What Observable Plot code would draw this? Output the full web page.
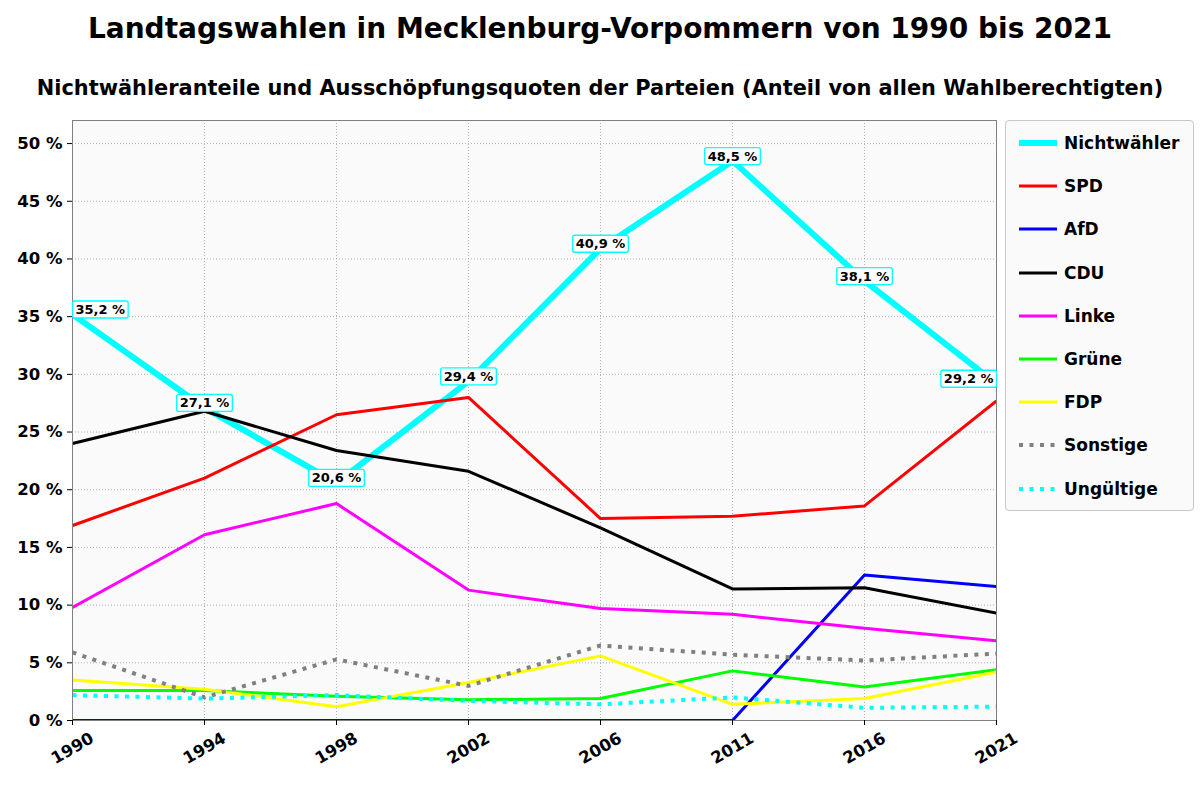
<!DOCTYPE html>
<html>
<head>
<meta charset="utf-8">
<script src="https://cdn.jsdelivr.net/npm/d3@7"></script>
<script src="https://cdn.jsdelivr.net/npm/@observablehq/plot@0.6"></script>
<style>
  html, body { margin: 0; padding: 0; background: #fff; }
  #wrap { position: relative; width: 1200px; height: 800px; font-family: "DejaVu Sans", sans-serif; font-weight: bold; color: #000; }
  #title { position: absolute; left: 0; width: 1200px; top: 12px; text-align: center; font-size: 28px; line-height: 34px; }
  #subtitle { position: absolute; left: 0; width: 1200px; top: 75px; text-align: center; font-size: 20.9px; line-height: 26px; }
  #chart { position: absolute; left: 0; top: 110px; }
  #legend { position: absolute; left: 1005px; top: 120px; width: 187px; height: 389px; border: 1px solid #c8c8c8; border-radius: 4px; background: #fafafa; }
  .item { position: absolute; left: 12px; height: 24px; display: flex; align-items: center; font-size: 17px; }
  .item svg { margin-right: 6px; }
</style>
</head>
<body>
<div id="wrap">
  <div id="title">Landtagswahlen in Mecklenburg-Vorpommern von 1990 bis 2021</div>
  <div id="subtitle">Nichtwähleranteile und Ausschöpfungsquoten der Parteien (Anteil von allen Wahlberechtigten)</div>
  <div id="chart"></div>
  <div id="legend"></div>
</div>
<script>
const years = ["1990", "1994", "1998", "2002", "2006", "2011", "2016", "2021"];
const yTicks = [0, 5, 10, 15, 20, 25, 30, 35, 40, 45, 50];

const nichtwaehler = [35.2, 27.1, 20.6, 29.4, 40.9, 48.5, 38.1, 29.2];
const spd        = [16.9, 21.0, 26.5, 28.0, 17.5, 17.7, 18.6, 27.7];
const afd        = [0, 0, 0, 0, 0, 0, 12.6, 11.6];
const cdu        = [24.0, 26.8, 23.4, 21.6, 16.7, 11.4, 11.5, 9.3];
const linke      = [9.8, 16.1, 18.8, 11.3, 9.7, 9.2, 8.0, 6.9];
const gruene     = [2.6, 2.6, 2.1, 1.8, 1.9, 4.3, 2.9, 4.4];
const fdp        = [3.5, 2.7, 1.2, 3.3, 5.6, 1.4, 1.9, 4.2];
const sonstige   = [5.9, 2.0, 5.3, 3.0, 6.5, 5.7, 5.2, 5.8];
const ungueltige = [2.2, 1.9, 2.2, 1.7, 1.4, 2.0, 1.1, 1.2];
const nwLabels   = ["35,2 %", "27,1 %", "20,6 %", "29,4 %", "40,9 %", "48,5 %", "38,1 %", "29,2 %"];

const series = [
  {name: "Nichtwähler", values: nichtwaehler, color: "#00ffff", width: 6, dash: null},
  {name: "SPD", values: spd, color: "#ff0000", width: 3, dash: null},
  {name: "AfD", values: afd, color: "#0000ff", width: 3, dash: null},
  {name: "CDU", values: cdu, color: "#000000", width: 3, dash: null},
  {name: "Linke", values: linke, color: "#ff00ff", width: 3, dash: null},
  {name: "Grüne", values: gruene, color: "#00ff00", width: 3, dash: null},
  {name: "FDP", values: fdp, color: "#ffff00", width: 3, dash: null},
  {name: "Sonstige", values: sonstige, color: "#808080", width: 4, dash: "4,6.5"},
  {name: "Ungültige", values: ungueltige, color: "#00ffff", width: 4, dash: "4,6.5"}
];

const rows = s => years.map((y, i) => ({year: y, value: s.values[i]}));
const nwData = years.map((y, i) => ({year: y, value: nichtwaehler[i], label: nwLabels[i]}));
const last = years.length - 1;

const lineMarks = series.map(s => Plot.line(rows(s), {
  x: "year", y: "value", stroke: s.color, strokeWidth: s.width,
  strokeDasharray: s.dash || undefined, strokeLinecap: "butt", strokeLinejoin: "round", clip: true
}));

const labelOpts = {x: "year", y: "value", text: "label", dy: -4.5, lineAnchor: "middle", fontSize: 13, fontWeight: "bold", fill: "#000"};

const plot = Plot.plot({
  width: 1200,
  height: 690,
  marginTop: 10,
  marginBottom: 80,
  marginLeft: 72,
  marginRight: 204,
  style: {fontFamily: "DejaVu Sans", fontWeight: "bold", fontSize: "16px", background: "transparent", overflow: "visible", color: "#000"},
  x: {type: "point", domain: years, padding: 0, label: null},
  y: {domain: [0, 52], label: null},
  marks: [
    Plot.frame({fill: "#fafafa"}),
    Plot.gridX(years, {stroke: "#b0b0b0", strokeOpacity: 1, strokeDasharray: "1,2"}),
    Plot.gridY(yTicks, {stroke: "#b0b0b0", strokeOpacity: 1, strokeDasharray: "1,2"}),
    ...lineMarks,
    Plot.frame({stroke: "#808080", strokeWidth: 1}),
    Plot.axisY(yTicks, {tickSize: 5, tickPadding: 5, tickFormat: d => d + " %", fontSize: 16.5, stroke: "#000"}),
    Plot.axisX(years, {tickSize: 5, tickFormat: () => "", stroke: "#000"}),
    Plot.text(years, {x: d => d, frameAnchor: "bottom", dy: 28, rotate: -30, textAnchor: "middle", lineAnchor: "middle", fontSize: 16.5, fontWeight: "bold"}),
    Plot.text(nwData, {...labelOpts, filter: (d, i) => i === 0, textAnchor: "start", dx: 3}),
    Plot.text(nwData, {...labelOpts, filter: (d, i) => i > 0 && i < last, textAnchor: "middle"}),
    Plot.text(nwData, {...labelOpts, filter: (d, i) => i === last, textAnchor: "end", dx: -3})
  ]
});

document.getElementById("chart").appendChild(plot);

// label boxes behind the Nichtwähler value labels
function addBoxes() {
  Array.from(plot.querySelectorAll("text"))
    .filter(t => nwLabels.includes(t.textContent.trim()))
    .forEach(t => {
      const b = t.getBBox();
      const r = document.createElementNS("http://www.w3.org/2000/svg", "rect");
      r.setAttribute("x", b.x - 3);
      r.setAttribute("y", b.y - 1);
      r.setAttribute("width", b.width + 6);
      r.setAttribute("height", b.height + 2);
      r.setAttribute("rx", 2);
      r.setAttribute("fill", "#ffffff");
      r.setAttribute("stroke", "#00ffff");
      r.setAttribute("stroke-width", 1.3);
      const tr = t.getAttribute("transform");
      if (tr) r.setAttribute("transform", tr);
      t.parentNode.insertBefore(r, t);
    });
}
addBoxes();

// legend
const legend = document.getElementById("legend");
series.forEach((s, i) => {
  const item = document.createElement("div");
  item.className = "item";
  item.style.top = (22 - 12 + i * 43.2) + "px";
  const dash = s.dash ? ` stroke-dasharray="${s.dash}"` : "";
  item.innerHTML = `<svg width="40" height="10"><line x1="1" x2="39" y1="5" y2="5" stroke="${s.color}" stroke-width="${s.width}"${dash}/></svg><span>${s.name}</span>`;
  legend.appendChild(item);
});
</script>
</body>
</html>
